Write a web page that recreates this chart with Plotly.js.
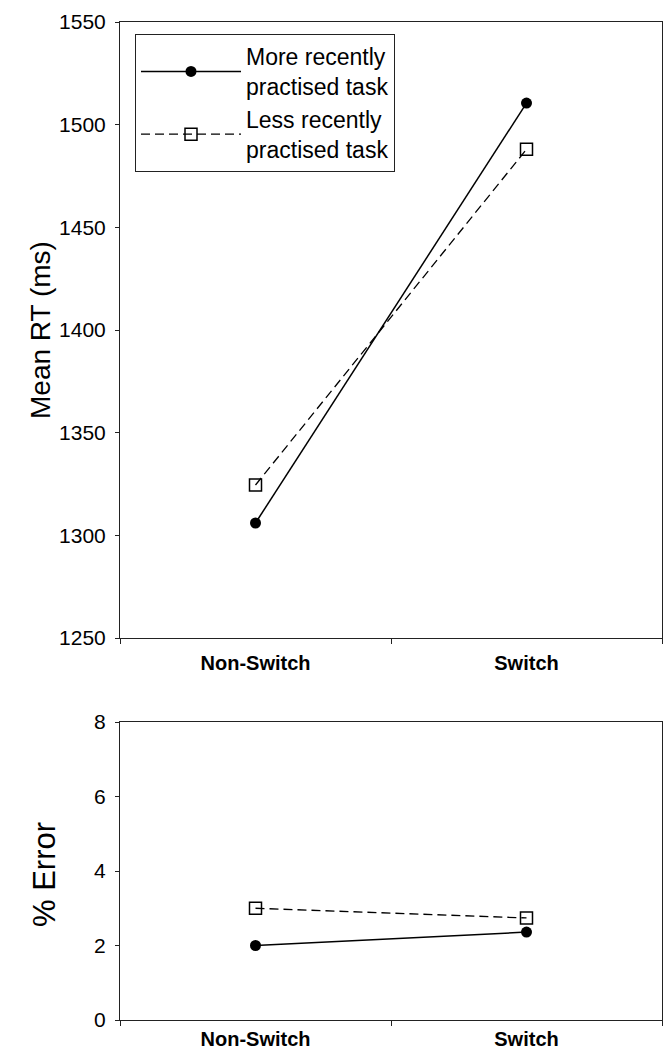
<!DOCTYPE html>
<html>
<head>
<meta charset="utf-8">
<script src="https://cdn.plot.ly/plotly-3.0.1.min.js"></script>
<style>html,body{margin:0;padding:0;background:#fff;}#chart{width:663px;height:1054px;}</style>
</head>
<body>
<div id="chart"></div>
<script>
const conditions = ["Non-Switch", "Switch"];
const seriesNames = ["More recently<br>practised task", "Less recently<br>practised task"];
const rtMore = [1306, 1510.5];
const rtLess = [1324.5, 1488];
const errMore = [2.0, 2.36];
const errLess = [3.0, 2.74];
const rtTicks = [1250, 1300, 1350, 1400, 1450, 1500, 1550];
const errTicks = [0, 2, 4, 6, 8];

const fontFam = '"Liberation Sans", Arial, Helvetica, sans-serif';
const solid = {color: '#000', width: 1.5, dash: 'solid'};
const dashed = {color: '#000', width: 1.3, dash: '9px,5px'};
const mCircle = {symbol: 'circle', size: 11, color: '#000'};
const mSquare = {symbol: 'square-open', size: 12, color: '#000', line: {width: 1.5, color: '#000'}};

const traces = [
  {x: conditions, y: rtMore, name: seriesNames[0], mode: 'lines+markers', line: solid, marker: mCircle, xaxis: 'x', yaxis: 'y', showlegend: true},
  {x: conditions, y: rtLess, name: seriesNames[1], mode: 'lines+markers', line: dashed, marker: mSquare, xaxis: 'x', yaxis: 'y', showlegend: true},
  {x: conditions, y: errMore, name: seriesNames[0], mode: 'lines+markers', line: solid, marker: mCircle, xaxis: 'x2', yaxis: 'y2', showlegend: false},
  {x: conditions, y: errLess, name: seriesNames[1], mode: 'lines+markers', line: dashed, marker: mSquare, xaxis: 'x2', yaxis: 'y2', showlegend: false}
];

const H = 1054, L = 120, W = 542;
function py(px) { return 1 - px / H; }

const xTickFont = {family: fontFam, size: 20, color: '#000', weight: 'bold'};
const xCommon = {
  type: 'category', range: [-0.5, 1.5], showline: true, mirror: true, linecolor: '#222', linewidth: 1,
  ticks: 'outside', ticklen: 5, tickcolor: '#222', tickson: 'boundaries', showgrid: false, zeroline: false,
  tickfont: xTickFont, ticklabelstandoff: 7, fixedrange: true
};
const yCommon = {
  showline: true, mirror: true, linecolor: '#222', linewidth: 1, ticks: 'outside', ticklen: 4, tickcolor: '#222',
  showgrid: false, zeroline: false, tickfont: {family: fontFam, size: 21, color: '#000'}, ticklabelstandoff: 5, fixedrange: true
};

const layout = {
  width: 663, height: 1054,
  margin: {l: L, r: 1, t: 0, b: 0},
  paper_bgcolor: '#fff', plot_bgcolor: '#fff',
  font: {family: fontFam, color: '#000'},
  xaxis: Object.assign({}, xCommon, {anchor: 'y', domain: [0, 1]}),
  yaxis: Object.assign({}, yCommon, {anchor: 'x', domain: [py(638), py(22)], range: [1250, 1550], tickvals: rtTicks}),
  xaxis2: Object.assign({}, xCommon, {anchor: 'y2', domain: [0, 1], ticklabelstandoff: 1}),
  yaxis2: Object.assign({}, yCommon, {anchor: 'x2', domain: [py(1020), py(722)], range: [0, 8], tickvals: errTicks}),
  showlegend: true,
  legend: {
    x: (135 - L) / W, y: py(34), xanchor: 'left', yanchor: 'top',
    bordercolor: '#222', borderwidth: 1, bgcolor: '#fff',
    font: {family: fontFam, size: 23, color: '#000'},
    itemwidth: 100, tracegroupgap: 0
  },
  annotations: [
    {text: 'Mean RT (ms)', xref: 'paper', yref: 'paper', x: (40 - L) / W, y: py(330), textangle: -90, showarrow: false, font: {family: fontFam, size: 28, color: '#000'}, xanchor: 'center', yanchor: 'middle'},
    {text: '% Error', xref: 'paper', yref: 'paper', x: (44 - L) / W, y: py(875), textangle: -90, showarrow: false, font: {family: fontFam, size: 31, color: '#000'}, xanchor: 'center', yanchor: 'middle'}
  ]
};

Plotly.newPlot('chart', traces, layout, {displayModeBar: false, staticPlot: true});
</script>
</body>
</html>
